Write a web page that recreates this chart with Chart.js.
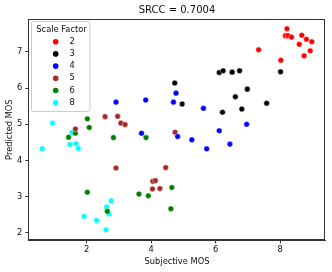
<!DOCTYPE html>
<html>
<head>
<meta charset="utf-8">
<script src="https://cdn.jsdelivr.net/npm/chart.js@4/dist/chart.umd.min.js"></script>
<style>
  body { margin: 0; background: #fff; }
</style>
</head>
<body>
<canvas id="myChart" width="332" height="272"></canvas>
<script>
// values
const scaleFactors = ['2', '3', '4', '5', '6', '8'];
const colors = ['#ff0000', '#000000', '#0000ff', '#a52a2a', '#008000', '#00ffff'];

const subj2 = [8.21, 8.16, 8.24, 8.35, 8.67, 8.81, 8.98, 8.59, 8.93, 8.74, 7.33, 8.02];
const pred2 = [7.64, 7.45, 7.45, 7.41, 7.46, 7.35, 7.28, 7.21, 7.03, 6.89, 7.06, 6.77];

const subj3 = [4.73, 6.11, 6.23, 6.51, 6.74, 8.01, 6.98, 6.61, 4.96, 7.58, 6.81, 6.21];
const pred3 = [6.14, 6.43, 6.48, 6.44, 6.48, 6.45, 5.97, 5.76, 5.56, 5.58, 5.42, 5.33];

const subj4 = [2.91, 3.83, 4.69, 4.77, 5.62, 3.70, 4.82, 5.26, 5.72, 6.11, 6.44, 6.96];
const pred4 = [5.61, 5.67, 5.61, 5.86, 5.44, 4.75, 4.66, 4.57, 4.32, 4.82, 4.45, 5.00];

const subj5 = [2.57, 2.96, 3.06, 3.19, 1.65, 4.74, 2.91, 4.45, 4.05, 4.13, 4.04, 4.27];
const pred5 = [5.21, 5.22, 5.03, 4.99, 4.87, 4.78, 3.79, 3.80, 3.42, 3.44, 3.21, 3.22];

const subj6 = [2.02, 2.08, 1.65, 1.44, 2.83, 3.84, 2.02, 3.62, 3.91, 4.64, 4.61, 2.64];
const pred6 = [5.15, 4.91, 4.75, 4.64, 4.63, 4.63, 3.12, 3.07, 3.02, 3.25, 2.66, 2.59];

const subj8 = [0.94, 0.62, 1.54, 1.48, 1.67, 1.74, 2.62, 2.76, 2.69, 1.92, 2.31, 2.60];
const pred8 = [5.03, 4.32, 4.77, 4.44, 4.46, 4.33, 2.71, 2.88, 2.52, 2.45, 2.34, 2.08];

const xTicks = [2, 4, 6, 8];
const yTicks = [2, 3, 4, 5, 6, 7];

const allX = [subj2, subj3, subj4, subj5, subj6, subj8];
const allY = [pred2, pred3, pred4, pred5, pred6, pred8];

const FONT = 'DejaVu Sans';

const datasets = scaleFactors.map((sf, k) => ({
  label: sf,
  data: allX[k].map((x, i) => ({ x: x, y: allY[k][i] })),
  backgroundColor: colors[k],
  borderColor: '#ffffff',
  borderWidth: 0.4,
  pointRadius: 2.8
}));

// title, axis titles, frame and legend drawn matplotlib-style
const extras = {
  id: 'extras',
  afterDraw(chart) {
    const ctx = chart.ctx;
    const a = chart.chartArea;
    ctx.save();
    // frame
    ctx.strokeStyle = '#333';
    ctx.lineWidth = 1;
    ctx.strokeRect(Math.round(a.left) + 0.5, Math.round(a.top) + 0.5,
      Math.round(a.right - a.left) - 1, Math.round(a.bottom - a.top) - 1);

    ctx.fillStyle = '#111';
    ctx.textAlign = 'center';
    ctx.textBaseline = 'middle';
    ctx.font = '10px "' + FONT + '"';
    ctx.fillText('SRCC = 0.7004', (a.left + a.right) / 2, 10.5);

    ctx.font = '8.3px "' + FONT + '"';
    ctx.fillText('Subjective MOS', (a.left + a.right) / 2, 261.5);
    ctx.save();
    ctx.translate(10, (a.top + a.bottom) / 2);
    ctx.rotate(-Math.PI / 2);
    ctx.fillText('Predicted MOS', 0, 0);
    ctx.restore();

    // legend
    const lx = 31.5, ly = 21.5, lw = 58.5, lh = 90;
    ctx.beginPath();
    ctx.roundRect(lx, ly, lw, lh, 2);
    ctx.fillStyle = 'rgba(255,255,255,0.8)';
    ctx.fill();
    ctx.strokeStyle = '#cccccc';
    ctx.lineWidth = 1;
    ctx.stroke();

    ctx.fillStyle = '#111';
    ctx.fillText('Scale Factor', 61.5, 29.5);
    ctx.textAlign = 'left';
    scaleFactors.forEach((sf, k) => {
      const y = 41.7 + k * 12.2;
      ctx.beginPath();
      ctx.arc(55.7, y, 2.8, 0, Math.PI * 2);
      ctx.fillStyle = colors[k];
      ctx.fill();
      ctx.fillStyle = '#111';
      ctx.fillText(sf, 69.5, y);
    });
    ctx.restore();
  }
};

const ctx = document.getElementById('myChart').getContext('2d');
const myChart = new Chart(ctx, {
  type: 'scatter',
  data: { datasets: datasets },
  options: {
    responsive: false,
    animation: false,
    devicePixelRatio: 1,
    layout: { padding: { left: 0, top: 19, right: 6.3, bottom: 0 } },
    plugins: {
      legend: { display: false },
      title: { display: false },
      tooltip: { enabled: false }
    },
    scales: {
      x: {
        type: 'linear',
        min: 0.19,
        max: 9.41,
        afterBuildTicks: (s) => { s.ticks = xTicks.map(v => ({ value: v })); },
        afterFit: (s) => { s.height = 31.7; },
        grid: { drawOnChartArea: false, tickLength: 3, color: '#333' },
        border: { display: true, color: '#333', width: 1 },
        ticks: { padding: 2, color: '#111', font: { family: FONT, size: 8.3 }, maxRotation: 0 }
      },
      y: {
        type: 'linear',
        min: 1.79,
        max: 7.91,
        afterBuildTicks: (s) => { s.ticks = yTicks.map(v => ({ value: v })); },
        afterFit: (s) => { s.width = 28.3; },
        grid: { drawOnChartArea: false, tickLength: 3, color: '#333' },
        border: { display: true, color: '#333', width: 1 },
        ticks: { padding: 3, color: '#111', font: { family: FONT, size: 8.3 } }
      }
    }
  },
  plugins: [extras]
});
</script>
</body>
</html>
